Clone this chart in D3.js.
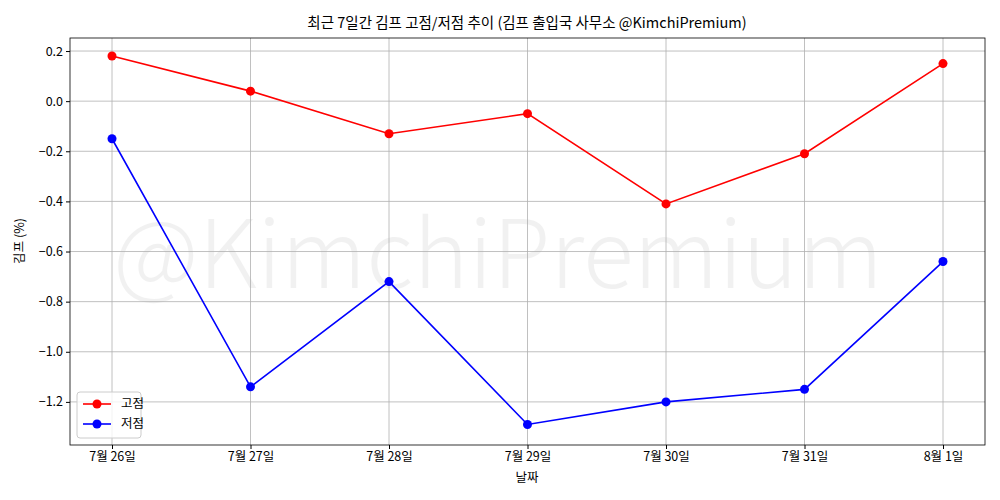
<!DOCTYPE html><html><head><meta charset="utf-8"><script src="https://cdn.jsdelivr.net/npm/d3@7"></script>
<style>body{margin:0;background:#fff}text{font-family:"Noto Sans CJK KR","DejaVu Sans",sans-serif}</style></head><body>
<svg id="c" width="1000" height="500"></svg>
<script>
const dates=["7월 26일","7월 27일","7월 28일","7월 29일","7월 30일","7월 31일","8월 1일"];
const highs=[0.18,0.04,-0.13,-0.05,-0.41,-0.21,0.15];
const lows=[-0.15,-1.14,-0.72,-1.29,-1.20,-1.15,-0.64];
const yTicks=[0.2,0.0,-0.2,-0.4,-0.6,-0.8,-1.0,-1.2];
const svg=d3.select("#c");
const L=70,R=985,T=38,B=445;
const x=d3.scalePoint().domain(dates).range([112,943]);
const y=d3.scaleLinear().domain([-1.372,0.252]).range([B,T]);
svg.append("text").attr("x",498).attr("y",288).attr("text-anchor","middle").attr("font-size",94).attr("font-weight",300).attr("fill","#000").attr("opacity",0.05).style("font-family","'Noto Sans CJK KR'").text("@KimchiPremium");
const g=svg.append("g");
dates.forEach(d=>g.append("line").attr("x1",x(d)).attr("x2",x(d)).attr("y1",T).attr("y2",B).attr("stroke","#b0b0b0").attr("stroke-width",0.8));
yTicks.forEach(v=>g.append("line").attr("x1",L).attr("x2",R).attr("y1",y(v)).attr("y2",y(v)).attr("stroke","#b0b0b0").attr("stroke-width",0.8));
svg.append("g").attr("transform",`translate(0,${B})`).call(d3.axisBottom(x).tickSizeOuter(0).tickSize(4)).call(a=>{a.select(".domain").remove();a.selectAll("text").attr("font-size",12.5).attr("fill","#000");});
svg.append("g").attr("transform",`translate(${L},0)`).call(d3.axisLeft(y).tickValues(yTicks).tickFormat(d3.format(".1f")).tickSize(4)).call(a=>{a.select(".domain").remove();a.selectAll("text").attr("font-size",12.5).attr("fill","#000");});
svg.append("rect").attr("x",L).attr("y",T).attr("width",R-L).attr("height",B-T).attr("fill","none").attr("stroke","#000").attr("stroke-width",0.8);
function series(data,col){
 svg.append("path").datum(data).attr("fill","none").attr("stroke",col).attr("stroke-width",1.6).attr("d",d3.line().x((d,i)=>x(dates[i])).y(d=>y(d)));
 svg.selectAll(null).data(data).enter().append("circle").attr("cx",(d,i)=>x(dates[i])).attr("cy",d=>y(d)).attr("r",4.5).attr("fill",col);
}
series(highs,"#ff0000");series(lows,"#0000ff");
svg.append("text").attr("x",527).attr("y",28).attr("text-anchor","middle").attr("font-size",14.5).text("최근 7일간 김프 고점/저점 추이 (김프 출입국 사무소 @KimchiPremium)");
svg.append("text").attr("x",527).attr("y",482).attr("text-anchor","middle").attr("font-size",12.5).text("날짜");
svg.append("text").attr("transform","translate(24,241) rotate(-90)").attr("text-anchor","middle").attr("font-size",12.5).text("김프 (%)");
const lg=svg.append("g").attr("transform","translate(77,392)");
lg.append("rect").attr("width",64).attr("height",46).attr("rx",3).attr("fill","#fff").attr("fill-opacity",0.8).attr("stroke","#ccc");
[["고점","#ff0000"],["저점","#0000ff"]].forEach(([t,c],i)=>{
 const yy=12+i*20;
 lg.append("line").attr("x1",6).attr("x2",34).attr("y1",yy).attr("y2",yy).attr("stroke",c).attr("stroke-width",1.6);
 lg.append("circle").attr("cx",20).attr("cy",yy).attr("r",4.5).attr("fill",c);
 lg.append("text").attr("x",44).attr("y",yy+4).attr("font-size",12.5).text(t);
});
</script></body></html>
